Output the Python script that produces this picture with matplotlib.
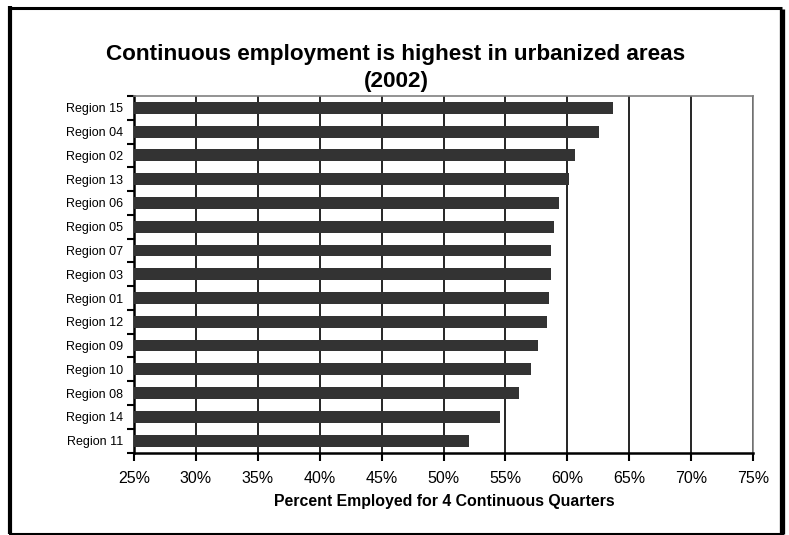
import numpy as np
import matplotlib
matplotlib.use('Agg')
import matplotlib.pyplot as plt
from matplotlib.lines import Line2D
from matplotlib.ticker import FuncFormatter

plt.rcParams['font.family'] = ['Liberation Sans', 'DejaVu Sans']

# regions, top to bottom
regions = ['Region 15', 'Region 04', 'Region 02', 'Region 13', 'Region 06',
           'Region 05', 'Region 07', 'Region 03', 'Region 01', 'Region 12',
           'Region 09', 'Region 10', 'Region 08', 'Region 14', 'Region 11']
pct_employed = [63.7, 62.6, 60.6, 60.1, 59.3, 58.9, 58.7, 58.65, 58.5, 58.4,
                57.6, 57.1, 56.1, 54.6, 52.1]
x_ticks = [25, 30, 35, 40, 45, 50, 55, 60, 65, 70, 75]

fig = plt.figure(figsize=(7.89, 5.35), dpi=100)
ax = fig.add_axes([134 / 789, 1 - 452.5 / 535, (753 - 134) / 789, (452.5 - 96) / 535])

y = np.arange(len(regions))
ax.barh(y, pct_employed, height=0.5, color='#333333', zorder=3)
ax.set_ylim(len(regions) - 0.5, -0.5)
ax.set_xlim(25, 75)

# gridlines at every 5%
ax.set_xticks(x_ticks)
ax.xaxis.set_major_formatter(FuncFormatter(lambda v, p: '%d%%' % v))
ax.grid(axis='x', color='black', linewidth=1.2, zorder=1)
ax.tick_params(axis='x', direction='out', length=6, width=1.5, labelsize=11.5, pad=7)

# category labels centered, ticks on boundaries
ax.set_yticks(y)
ax.set_yticklabels(regions)
ax.set_yticks(np.arange(-0.5, len(regions)), minor=True)
ax.tick_params(axis='y', which='major', length=0, labelsize=9, pad=8)
ax.tick_params(axis='y', which='minor', direction='out', length=5, width=1.5)

for side in ['left', 'bottom']:
    ax.spines[side].set_linewidth(1.8)
    ax.spines[side].set_color('black')
for side in ['top', 'right']:
    ax.spines[side].set_linewidth(1.2)
    ax.spines[side].set_color('#808080')

fig.text(444 / 789, 1 - 506 / 535, 'Percent Employed for 4 Continuous Quarters',
         ha='center', va='baseline', fontsize=11.4, fontweight='bold')

fig.text(396 / 789, 1 - 60 / 535, 'Continuous employment is highest in urbanized areas',
         ha='center', va='baseline', fontsize=16.2, fontweight='bold')
fig.text(396 / 789, 1 - 87 / 535, '(2002)',
         ha='center', va='baseline', fontsize=16.2, fontweight='bold')

# outer frame with shadow on the right
def frame_line(x0, y0, x1, y1, lw):
    fig.add_artist(Line2D([x0 / 789, x1 / 789], [1 - y0 / 535, 1 - y1 / 535],
                          color='black', linewidth=lw, transform=fig.transFigure,
                          solid_capstyle='butt'))

frame_line(10, 6, 10, 534, 3.0)
frame_line(8.5, 7.5, 782, 7.5, 2.2)
frame_line(781.5, 9, 781.5, 534, 3.8)
frame_line(8.5, 533.5, 784, 533.5, 1.5)

fig.savefig('out.png', dpi=100)
